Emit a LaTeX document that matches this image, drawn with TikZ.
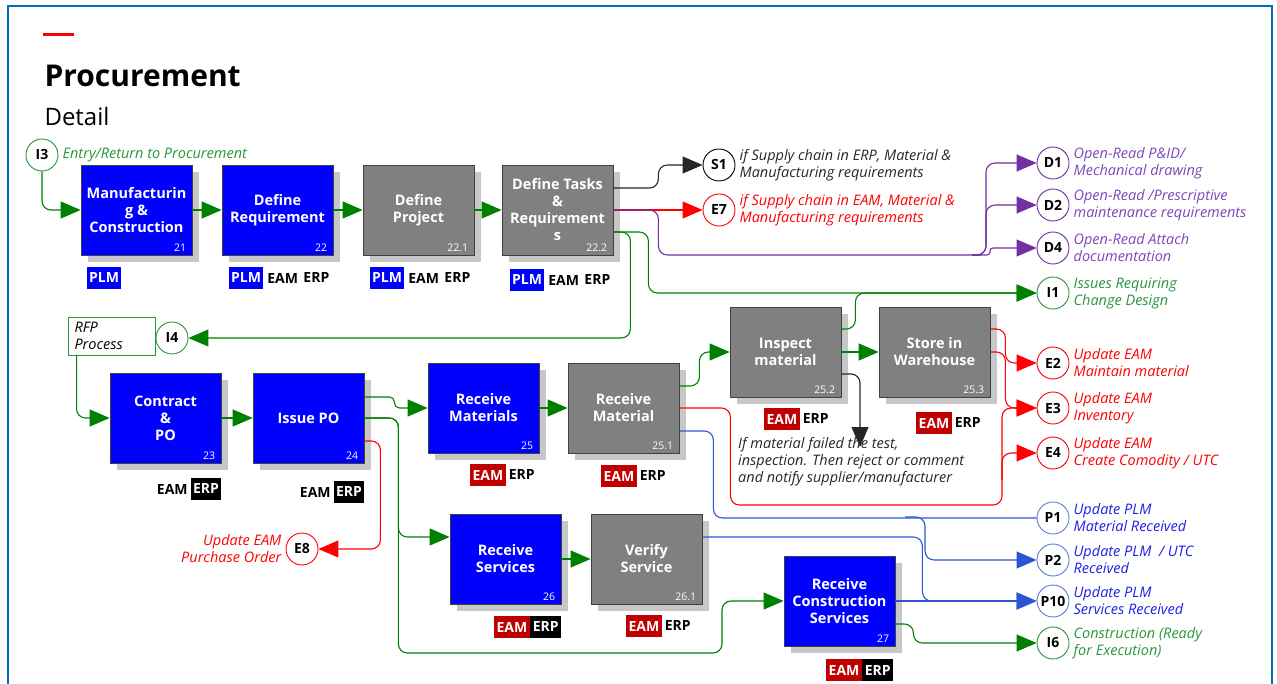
\documentclass[tikz,border=0pt]{standalone}
\usepackage{fontspec}
\setmainfont{Open Sans}
\usepackage{tikz}
\usetikzlibrary{arrows.meta,positioning,shadows}
%
\definecolor{framblue}{RGB}{0,112,192}
\definecolor{boxblue}{RGB}{0,0,255}
\definecolor{boxgray}{RGB}{128,128,128}
\definecolor{eamred}{RGB}{192,0,0}
\definecolor{lnred}{RGB}{255,0,0}
\definecolor{lngreen}{RGB}{0,128,0}
\definecolor{txgreen}{RGB}{40,150,60}
\definecolor{lnpurple}{RGB}{112,48,160}
\definecolor{txpurple}{RGB}{125,70,185}
\definecolor{lnblue}{RGB}{45,85,210}
\definecolor{txblue}{RGB}{30,30,230}
\definecolor{cblue}{RGB}{95,125,220}
%
\begin{document}
\begin{tikzpicture}[x=1pt,y=-1pt,
    box/.style={draw=black!75,line width=0.8pt,minimum width=111pt,
      minimum height=90pt,align=center,text=white,
      font=\fontsize{14.5}{17}\selectfont\bfseries,
      general shadow={fill=black!22,shadow xshift=7pt,shadow yshift=-7pt}},
    bbox/.style={box,fill=boxblue},
    gbox/.style={box,fill=boxgray},
    num/.style={anchor=south east,inner xsep=6pt,inner ysep=4pt,text=white,
      font=\fontsize{10.5}{12}\selectfont},
    tg/.style={inner sep=2.5pt,minimum height=22pt,
      font=\fontsize{14}{16}\selectfont\bfseries},
    plm/.style={tg,fill=boxblue,text=white},
    eam/.style={tg,fill=eamred,text=white},
    erp/.style={tg,fill=black,text=white},
    sys/.style={tg,text=black},
    refc/.style={circle,draw=#1,fill=white,line width=0.9pt,minimum size=32pt,
      inner sep=0pt,font=\fontsize{14}{16}\selectfont\bfseries},
    lab/.style={text=#1,align=left,inner sep=1pt,
      font=\fontsize{14.5}{17}\selectfont\itshape},
    con/.style={line width=1.1pt,rounded corners=9pt},
    arr/.style={con,-{Triangle[length=20pt,width=17pt]}}]
%
  \useasboundingbox (0,0) rectangle (1277,684) ;
  \draw [framblue,line width=2.5pt] (8,700) -- (8,6) -- (1272,6) -- (1272,700) ;
  \draw [lnred,line width=3pt] (43,35) -- (74,35) ;
  \node (title) [anchor=base west,font=\fontsize{30}{36}\selectfont\bfseries]
    at (41,87) {Procurement} ;
  \node (sub) [anchor=base west,font=\fontsize{24}{28}\selectfont]
    at (41,126) {Detail} ;
%
% process boxes
  \node (b21) [bbox] at (136.5,210) {Manufacturin\\g \&\\Construction} ;
  \node (b22) [bbox] at (277.5,210) {Define\\Requirement} ;
  \node (b221) [gbox] at (418.5,210) {Define\\Project} ;
  \node (b222) [gbox] at (557.5,210) {Define Tasks\\\&\\Requirement\\s} ;
  \node (b23) [bbox] at (165.5,418) {Contract\\\&\\PO} ;
  \node (b24) [bbox] at (308.5,418) {Issue PO} ;
  \node (b25) [bbox] at (483.5,408) {Receive\\Materials} ;
  \node (b251) [gbox] at (623.5,408) {Receive\\Material} ;
  \node (b252) [gbox] at (785.5,352) {Inspect\\material} ;
  \node (b253) [gbox] at (934.5,352) {Store in\\Warehouse} ;
  \node (b26) [bbox] at (505.5,559) {Receive\\Services} ;
  \node (b261) [gbox] at (646.5,559) {Verify\\Service} ;
  \node (b27) [bbox] at (839.5,601) {Receive\\Construction\\Services} ;
%
  \node (n21) [num] at (b21.south east) {21} ;
  \node (n22) [num] at (b22.south east) {22} ;
  \node (n221) [num] at (b221.south east) {22.1} ;
  \node (n222) [num] at (b222.south east) {22.2} ;
  \node (n23) [num] at (b23.south east) {23} ;
  \node (n24) [num] at (b24.south east) {24} ;
  \node (n25) [num] at (b25.south east) {25} ;
  \node (n251) [num] at (b251.south east) {25.1} ;
  \node (n252) [num] at (b252.south east) {25.2} ;
  \node (n253) [num] at (b253.south east) {25.3} ;
  \node (n26) [num] at (b26.south east) {26} ;
  \node (n261) [num] at (b261.south east) {26.1} ;
  \node (n27) [num] at (b27.south east) {27} ;
%
% system tags
  \node (t21a) [plm] at (104,278) {PLM} ;
  \node (t22a) [plm] at (246,278) {PLM} ;
  \node (t22b) [sys,right=1pt of t22a] {EAM} ;
  \node (t22c) [sys,right=0pt of t22b] {ERP} ;
  \node (t221a) [plm] at (387,278) {PLM} ;
  \node (t221b) [sys,right=1pt of t221a] {EAM} ;
  \node (t221c) [sys,right=0pt of t221b] {ERP} ;
  \node (t222a) [plm] at (527,280) {PLM} ;
  \node (t222b) [sys,right=1pt of t222a] {EAM} ;
  \node (t222c) [sys,right=0pt of t222b] {ERP} ;
  \node (t23b) [erp] at (206,489) {ERP} ;
  \node (t23a) [sys,left=0pt of t23b] {EAM} ;
  \node (t24b) [erp] at (349,492) {ERP} ;
  \node (t24a) [sys,left=0pt of t24b] {EAM} ;
  \node (t25a) [eam] at (488,475) {EAM} ;
  \node (t25b) [sys,right=0pt of t25a] {ERP} ;
  \node (t251a) [eam] at (619,476) {EAM} ;
  \node (t251b) [sys,right=0pt of t251a] {ERP} ;
  \node (t252a) [eam] at (782,419) {EAM} ;
  \node (t252b) [sys,right=0pt of t252a] {ERP} ;
  \node (t253a) [eam] at (934,423) {EAM} ;
  \node (t253b) [sys,right=0pt of t253a] {ERP} ;
  \node (t26a) [eam] at (512,627) {EAM} ;
  \node (t26b) [erp,right=0pt of t26a] {ERP} ;
  \node (t261a) [eam] at (644,626) {EAM} ;
  \node (t261b) [sys,right=0pt of t261a] {ERP} ;
  \node (t27a) [eam] at (844,670) {EAM} ;
  \node (t27b) [erp,right=0pt of t27a] {ERP} ;
%
% off-page references
  \node (i3) [refc=txgreen] at (42,155) {I3} ;
  \node (s1) [refc=black] at (719,165) {S1} ;
  \node (e7) [refc=lnred] at (719,210) {E7} ;
  \node (d1) [refc=lnpurple] at (1053,163) {D1} ;
  \node (d2) [refc=lnpurple] at (1053,205) {D2} ;
  \node (d4) [refc=lnpurple] at (1053,248) {D4} ;
  \node (i1) [refc=txgreen] at (1053,293) {I1} ;
  \node (i4) [refc=txgreen] at (172,338) {I4} ;
  \node (e2) [refc=lnred] at (1053,363) {E2} ;
  \node (e3) [refc=lnred] at (1053,408) {E3} ;
  \node (e4) [refc=lnred] at (1053,453) {E4} ;
  \node (p1) [refc=cblue] at (1053,518) {P1} ;
  \node (p2) [refc=cblue] at (1053,560) {P2} ;
  \node (p10) [refc=cblue] at (1053,601) {P10} ;
  \node (i6) [refc=txgreen] at (1053,643) {I6} ;
  \node (e8) [refc=lnred] at (302,549) {E8} ;
  \node (rfp) [draw=txgreen,line width=0.9pt,minimum width=87pt,minimum height=38pt,
    text width=74pt,align=left,inner sep=2pt,
    font=\fontsize{14.5}{17}\selectfont\itshape] at (111.5,336) {RFP\\Process} ;
%
  \node (li3) [lab=txgreen,right=3pt of i3] {Entry/Return to Procurement} ;
  \node (ls1) [lab=black!85,right=3pt of s1] {if Supply chain in ERP, Material \&\\Manufacturing requirements} ;
  \node (le7) [lab=lnred,right=3pt of e7] {if Supply chain in EAM, Material \&\\Manufacturing requirements} ;
  \node (ld1) [lab=txpurple,right=3pt of d1] {Open-Read P\&ID/\\Mechanical drawing} ;
  \node (ld2) [lab=txpurple,right=3pt of d2] {Open-Read /Prescriptive\\maintenance requirements} ;
  \node (ld4) [lab=txpurple,right=3pt of d4] {Open-Read Attach\\documentation} ;
  \node (li1) [lab=txgreen,right=3pt of i1] {Issues Requiring\\Change Design} ;
  \node (le2) [lab=lnred,right=3pt of e2] {Update EAM\\Maintain material} ;
  \node (le3) [lab=lnred,right=3pt of e3] {Update EAM\\Inventory} ;
  \node (le4) [lab=lnred,right=3pt of e4] {Update EAM\\Create Comodity / UTC} ;
  \node (lp1) [lab=txblue,right=3pt of p1] {Update PLM\\Material Received} ;
  \node (lp2) [lab=txblue,right=3pt of p2] {Update PLM ~/ UTC\\Received} ;
  \node (lp10) [lab=txblue,right=3pt of p10] {Update PLM\\Services Received} ;
  \node (li6) [lab=txgreen,right=3pt of i6] {Construction (Ready\\for Execution)} ;
  \node (le8) [lab=lnred,align=right,left=3pt of e8] {Update EAM\\Purchase Order} ;
  \node (note) [lab=black!85,anchor=north west] at (737,436)
    {If material failed the test,\\inspection. Then reject or comment\\and notify supplier/manufacturer} ;
%
% junctions
  \coordinate (pj) at (972,255) ;
  \coordinate (rj) at (1002,480) ;
  \coordinate (bj) at (905,517) ;
  \coordinate (tip) at (860,447) ;
%
% green flow
  \draw [arr,lngreen] (i3) |- (b21) ;
  \draw [arr,lngreen] (b21) -- (b22) ;
  \draw [arr,lngreen] (b22) -- (b221) ;
  \draw [arr,lngreen] (b221) -- (b222) ;
  \draw [arr,lngreen] (b222.east |- 0,232) -- ++(35,0) |- (i1) ;
  \draw [arr,lngreen] (b222.east |- 0,232) -- ++(17,0) |- (i4) ;
  \draw [arr,lngreen] ([xshift=9pt]rfp.south west) |- (b23) ;
  \draw [arr,lngreen] (b23) -- (b24) ;
  \draw [arr,lngreen,rounded corners=5pt] (b24.east |- 0,397) -- ++(30,0) |- (b25) ;
  \draw [arr,lngreen] (b24.east) -- ++(34,0) |- (b26.west |- 0,537) ;
  \draw [arr,lngreen] (b24.east) -- ++(34,0) |- (722,653) |- (b27) ;
  \draw [arr,lngreen] (b25) -- (b251) ;
  \draw [arr,lngreen] (b251.east |- 0,386) -- ++(20,0) |- (b252) ;
  \draw [arr,lngreen] (b252) -- (b253) ;
  \draw [arr,lngreen] (b252.east |- 0,329) -- ++(14,0) |- (i1) ;
  \draw [arr,lngreen] (b26) -- (b261) ;
  \draw [arr,lngreen] (b27.east |- 0,624) -- ++(18,0) |- (i6) ;
%
% black
  \draw [arr,black!85] (b222.east |- 0,188) -- ++(45,0) |- (s1) ;
  \draw [arr,black!85] (b252.east |- 0,374) -| (tip) ;
%
% red
  \draw [arr,lnred] (b222) -- (e7) ;
  \draw [arr,lnred] (b24.east |- 0,441) -- ++(16,0) |- (e8) ;
  \draw [arr,lnred] (b253.east |- 0,329) -- ++(15,0) |- (e2) ;
  \draw [arr,lnred] (b253.east |- 0,352) -- ++(15,0) |- (e3) ;
  \draw [arr,lnred] (b251.east) -- ++(51,0) |- (1002,505) |- (e3) ;
  \draw [arr,lnred] (rj) |- (e4) ;
%
% purple
  \draw [arr,lnpurple] (b222.east) -- ++(45,0) |- (pj) -- ++(14,0) |- (d1) ;
  \draw [arr,lnpurple] (pj) -- ++(14,0) |- (d2) ;
  \draw [arr,lnpurple,rounded corners=3pt] (pj) -- ++(18,0) |- (d4) ;
%
% blue
  \draw [con,lnblue] (b251.east |- 0,431) -- ++(34,0) |- (p1) ;
  \draw [arr,lnblue] (bj) -- ++(20,0) |- (p2) ;
  \draw [arr,lnblue] (b261.east |- 0,537) -- ++(220,0) |- (p10) ;
  \draw [arr,lnblue] (b27) -- (p10) ;
%
\end{tikzpicture}
\end{document}
